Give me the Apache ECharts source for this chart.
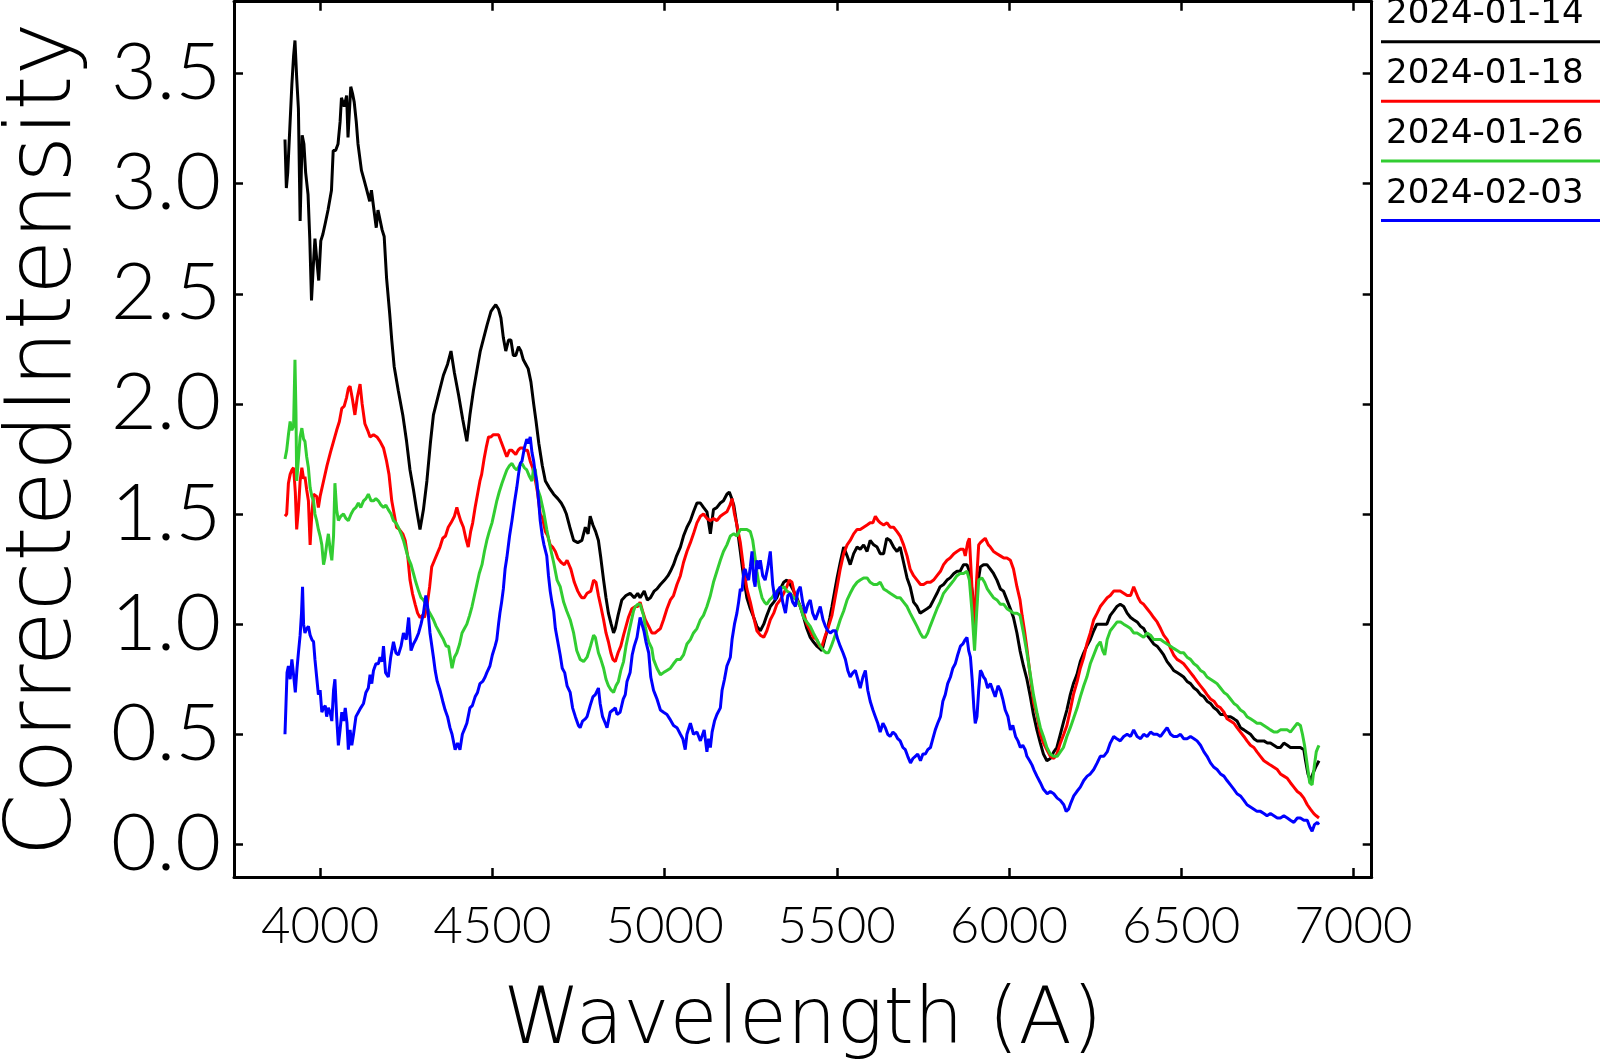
<!DOCTYPE html>
<html><head><meta charset="utf-8">
<script src="https://cdn.jsdelivr.net/npm/echarts@6/dist/echarts.min.js"></script>
<style>html,body{margin:0;padding:0;background:#fff}#c{width:1600px;height:1059px}</style>
</head><body><div id="c"></div><script>
const seriesNames = ['2024-01-14', '2024-01-18', '2024-01-26', '2024-02-03'];
const seriesColors = ['#000000', '#ff0000', '#32cd32', '#0000ff'];
const xTicks = [4000, 4500, 5000, 5500, 6000, 6500, 7000];
const yTicks = [0, 0.5, 1.0, 1.5, 2.0, 2.5, 3.0, 3.5];

const spec0114 = [[3898,3.20],[3902,2.98],[3906,3.05],[3912,3.25],[3918,3.45],[3923,3.58],[3927,3.65],[3932,3.48],[3937,3.34],[3942,2.83],[3948,3.22],[3953,3.18],[3958,3.05],[3965,2.95],[3970,2.75],[3975,2.47],[3980,2.62],[3985,2.75],[3990,2.66],[3996,2.56],[4002,2.74],[4008,2.77],[4015,2.82],[4023,2.88],[4033,2.97],[4038,3.15],[4045,3.15],[4052,3.18],[4058,3.28],[4062,3.39],[4070,3.35],[4077,3.40],[4081,3.21],[4089,3.44],[4094,3.41],[4099,3.37],[4105,3.28],[4110,3.18],[4120,3.06],[4127,3.02],[4134,2.98],[4144,2.92],[4149,2.97],[4154,2.97],[4158,2.86],[4163,2.80],[4168,2.88],[4173,2.88],[4180,2.79],[4186,2.76],[4193,2.57],[4202,2.41],[4208,2.29],[4215,2.17],[4227,2.06],[4240,1.95],[4251,1.83],[4261,1.70],[4271,1.61],[4280,1.52],[4290,1.43],[4300,1.52],[4310,1.65],[4320,1.82],[4329,1.95],[4345,2.05],[4358,2.13],[4370,2.18],[4380,2.24],[4390,2.14],[4402,2.04],[4414,1.93],[4426,1.83],[4435,1.95],[4445,2.06],[4455,2.15],[4465,2.24],[4475,2.30],[4485,2.36],[4496,2.42],[4505,2.44],[4510,2.45],[4518,2.43],[4525,2.39],[4532,2.30],[4539,2.24],[4547,2.29],[4554,2.29],[4561,2.22],[4568,2.22],[4576,2.26],[4583,2.24],[4590,2.20],[4597,2.18],[4604,2.16],[4612,2.10],[4620,2.00],[4627,1.92],[4635,1.82],[4645,1.72],[4654,1.65],[4665,1.62],[4678,1.59],[4690,1.57],[4700,1.55],[4707,1.53],[4715,1.50],[4725,1.44],[4736,1.38],[4748,1.37],[4760,1.38],[4770,1.44],[4778,1.41],[4784,1.49],[4792,1.45],[4800,1.42],[4808,1.38],[4815,1.30],[4823,1.20],[4830,1.12],[4837,1.05],[4845,1.00],[4852,0.96],[4857,0.98],[4865,1.04],[4876,1.11],[4888,1.13],[4900,1.14],[4912,1.12],[4922,1.14],[4929,1.12],[4941,1.15],[4950,1.11],[4959,1.12],[4970,1.15],[4978,1.16],[4988,1.18],[5000,1.20],[5010,1.22],[5017,1.24],[5026,1.27],[5035,1.31],[5046,1.35],[5055,1.40],[5065,1.44],[5075,1.47],[5084,1.51],[5094,1.55],[5104,1.55],[5113,1.53],[5123,1.51],[5133,1.41],[5142,1.52],[5152,1.53],[5162,1.55],[5171,1.56],[5181,1.59],[5188,1.60],[5195,1.57],[5201,1.54],[5210,1.45],[5220,1.33],[5229,1.22],[5239,1.12],[5249,1.07],[5259,1.03],[5268,0.99],[5278,0.97],[5288,1.00],[5297,1.04],[5307,1.08],[5317,1.10],[5326,1.12],[5336,1.16],[5346,1.19],[5355,1.20],[5365,1.18],[5375,1.15],[5384,1.12],[5394,1.08],[5404,1.03],[5413,0.98],[5423,0.94],[5432,0.92],[5442,0.90],[5450,0.89],[5457,0.88],[5465,0.93],[5472,0.97],[5480,1.03],[5486,1.08],[5494,1.15],[5501,1.21],[5510,1.28],[5520,1.35],[5530,1.31],[5539,1.27],[5549,1.32],[5559,1.35],[5568,1.34],[5578,1.36],[5588,1.33],[5597,1.38],[5607,1.36],[5617,1.35],[5626,1.32],[5636,1.32],[5645,1.39],[5655,1.38],[5665,1.35],[5675,1.33],[5684,1.35],[5694,1.28],[5704,1.21],[5713,1.17],[5723,1.10],[5733,1.08],[5742,1.05],[5752,1.06],[5762,1.07],[5771,1.08],[5781,1.11],[5791,1.14],[5800,1.17],[5810,1.18],[5820,1.20],[5829,1.21],[5840,1.23],[5849,1.24],[5858,1.24],[5868,1.27],[5878,1.27],[5885,1.24],[5893,1.15],[5902,1.05],[5909,1.18],[5917,1.26],[5926,1.27],[5936,1.27],[5946,1.25],[5955,1.23],[5965,1.20],[5975,1.16],[5984,1.15],[5994,1.11],[6004,1.07],[6013,1.03],[6023,0.96],[6032,0.88],[6042,0.81],[6052,0.75],[6062,0.67],[6071,0.59],[6081,0.52],[6091,0.46],[6100,0.41],[6110,0.38],[6120,0.39],[6130,0.42],[6139,0.44],[6149,0.50],[6159,0.56],[6168,0.61],[6178,0.68],[6187,0.73],[6197,0.77],[6207,0.83],[6217,0.87],[6226,0.90],[6236,0.93],[6246,0.97],[6255,1.00],[6265,1.00],[6275,1.00],[6284,1.00],[6294,1.04],[6304,1.06],[6313,1.08],[6323,1.09],[6333,1.08],[6343,1.05],[6353,1.03],[6362,1.02],[6372,1.01],[6382,0.99],[6391,0.98],[6401,0.95],[6411,0.93],[6420,0.91],[6430,0.90],[6440,0.88],[6449,0.86],[6459,0.83],[6469,0.81],[6478,0.79],[6488,0.78],[6498,0.77],[6507,0.76],[6517,0.74],[6527,0.73],[6537,0.71],[6546,0.70],[6556,0.68],[6566,0.67],[6575,0.65],[6585,0.64],[6595,0.62],[6604,0.61],[6614,0.59],[6624,0.59],[6633,0.58],[6643,0.58],[6653,0.57],[6662,0.56],[6672,0.53],[6682,0.52],[6691,0.51],[6701,0.50],[6711,0.48],[6720,0.47],[6730,0.47],[6740,0.47],[6750,0.46],[6759,0.46],[6769,0.45],[6779,0.44],[6788,0.44],[6798,0.46],[6808,0.45],[6817,0.44],[6827,0.44],[6837,0.44],[6846,0.44],[6856,0.43],[6861,0.38],[6868,0.32],[6875,0.29],[6882,0.32],[6890,0.35],[6895,0.35],[6900,0.38]];

const spec0118 = [[3898,1.49],[3903,1.50],[3908,1.64],[3913,1.68],[3918,1.70],[3923,1.71],[3928,1.60],[3932,1.43],[3937,1.52],[3942,1.65],[3947,1.71],[3952,1.66],[3956,1.67],[3961,1.61],[3966,1.56],[3971,1.36],[3976,1.50],[3981,1.59],[3990,1.58],[3995,1.53],[4000,1.58],[4010,1.65],[4020,1.72],[4030,1.78],[4039,1.83],[4048,1.88],[4056,1.92],[4063,1.98],[4070,1.99],[4077,2.03],[4082,2.07],[4087,2.08],[4094,2.02],[4101,1.95],[4108,2.03],[4116,2.09],[4122,2.00],[4130,1.91],[4138,1.88],[4145,1.85],[4155,1.86],[4165,1.85],[4174,1.83],[4184,1.80],[4193,1.74],[4200,1.68],[4208,1.56],[4215,1.50],[4222,1.44],[4230,1.43],[4240,1.41],[4247,1.38],[4255,1.30],[4261,1.20],[4268,1.14],[4276,1.09],[4283,1.05],[4290,1.03],[4297,1.04],[4303,1.03],[4310,1.08],[4318,1.17],[4324,1.26],[4332,1.29],[4340,1.32],[4348,1.35],[4356,1.39],[4364,1.40],[4372,1.44],[4380,1.46],[4390,1.49],[4397,1.53],[4402,1.50],[4408,1.47],[4416,1.44],[4423,1.39],[4430,1.35],[4437,1.42],[4443,1.46],[4450,1.53],[4457,1.59],[4464,1.65],[4469,1.68],[4476,1.75],[4482,1.80],[4489,1.85],[4496,1.85],[4503,1.86],[4510,1.86],[4518,1.86],[4525,1.83],[4530,1.83],[4537,1.78],[4542,1.76],[4550,1.79],[4556,1.79],[4561,1.79],[4568,1.77],[4575,1.79],[4581,1.80],[4588,1.80],[4595,1.79],[4602,1.79],[4610,1.74],[4617,1.71],[4624,1.66],[4631,1.60],[4639,1.50],[4646,1.48],[4654,1.42],[4661,1.40],[4668,1.36],[4675,1.35],[4683,1.33],[4690,1.30],[4700,1.28],[4709,1.27],[4717,1.29],[4728,1.25],[4738,1.19],[4748,1.15],[4755,1.13],[4760,1.12],[4767,1.12],[4775,1.14],[4786,1.15],[4794,1.20],[4801,1.19],[4808,1.13],[4815,1.08],[4823,1.02],[4830,0.96],[4837,0.92],[4844,0.87],[4850,0.84],[4857,0.83],[4865,0.87],[4873,0.90],[4881,0.95],[4888,0.99],[4895,1.03],[4905,1.07],[4915,1.08],[4922,1.08],[4929,1.10],[4936,1.06],[4944,1.02],[4954,0.99],[4963,0.96],[4973,0.96],[4980,0.97],[4988,0.98],[4997,1.02],[5007,1.07],[5017,1.11],[5026,1.13],[5036,1.18],[5046,1.22],[5055,1.28],[5065,1.33],[5075,1.37],[5084,1.41],[5094,1.46],[5104,1.49],[5113,1.50],[5123,1.48],[5133,1.47],[5142,1.48],[5152,1.47],[5162,1.49],[5171,1.50],[5181,1.51],[5190,1.54],[5196,1.57],[5203,1.50],[5210,1.45],[5220,1.37],[5229,1.26],[5239,1.16],[5249,1.10],[5259,1.03],[5268,0.97],[5278,0.95],[5288,0.94],[5297,0.97],[5307,1.02],[5317,1.05],[5326,1.09],[5336,1.11],[5346,1.14],[5355,1.17],[5362,1.20],[5370,1.19],[5377,1.14],[5384,1.11],[5394,1.08],[5404,1.05],[5413,1.00],[5423,0.97],[5432,0.94],[5442,0.93],[5450,0.90],[5457,0.90],[5465,0.94],[5472,0.97],[5480,1.01],[5486,1.04],[5494,1.11],[5501,1.17],[5510,1.25],[5520,1.32],[5530,1.36],[5539,1.38],[5549,1.41],[5559,1.43],[5568,1.43],[5578,1.44],[5588,1.45],[5597,1.46],[5605,1.46],[5612,1.49],[5620,1.47],[5626,1.46],[5636,1.45],[5646,1.46],[5655,1.44],[5665,1.44],[5675,1.42],[5684,1.40],[5694,1.36],[5704,1.31],[5713,1.25],[5723,1.22],[5733,1.20],[5743,1.18],[5752,1.18],[5762,1.19],[5772,1.19],[5781,1.20],[5791,1.22],[5801,1.24],[5810,1.27],[5820,1.29],[5829,1.30],[5840,1.32],[5849,1.33],[5859,1.34],[5868,1.34],[5873,1.31],[5880,1.37],[5885,1.39],[5893,1.15],[5900,0.98],[5906,1.20],[5912,1.36],[5917,1.37],[5924,1.38],[5931,1.39],[5940,1.36],[5946,1.35],[5955,1.33],[5965,1.32],[5975,1.31],[5985,1.30],[5994,1.30],[6004,1.29],[6013,1.25],[6023,1.17],[6032,1.11],[6038,1.04],[6045,0.97],[6052,0.89],[6062,0.76],[6072,0.64],[6081,0.59],[6091,0.50],[6100,0.46],[6110,0.43],[6120,0.40],[6130,0.39],[6139,0.41],[6149,0.46],[6159,0.50],[6168,0.54],[6178,0.61],[6187,0.68],[6198,0.74],[6207,0.80],[6217,0.85],[6226,0.91],[6236,0.96],[6246,1.02],[6256,1.05],[6265,1.08],[6275,1.10],[6285,1.12],[6294,1.13],[6304,1.15],[6314,1.15],[6323,1.15],[6333,1.14],[6343,1.13],[6353,1.13],[6362,1.17],[6367,1.17],[6375,1.12],[6382,1.10],[6391,1.09],[6401,1.07],[6411,1.05],[6420,1.03],[6430,1.01],[6440,0.98],[6449,0.95],[6459,0.93],[6469,0.89],[6478,0.86],[6488,0.84],[6498,0.83],[6507,0.82],[6517,0.80],[6527,0.78],[6537,0.76],[6546,0.74],[6556,0.72],[6566,0.70],[6575,0.68],[6585,0.66],[6595,0.65],[6604,0.63],[6614,0.62],[6624,0.60],[6633,0.57],[6643,0.56],[6653,0.55],[6662,0.53],[6672,0.51],[6682,0.49],[6691,0.47],[6701,0.45],[6711,0.44],[6720,0.42],[6730,0.40],[6740,0.38],[6750,0.37],[6759,0.36],[6769,0.35],[6779,0.34],[6788,0.32],[6798,0.31],[6808,0.30],[6817,0.28],[6827,0.26],[6837,0.24],[6846,0.23],[6856,0.21],[6866,0.18],[6875,0.16],[6885,0.14],[6892,0.13],[6900,0.12]];

const spec0126 = [[3898,1.75],[3903,1.79],[3908,1.86],[3913,1.92],[3918,1.88],[3923,1.90],[3927,2.20],[3930,1.95],[3932,1.65],[3937,1.75],[3942,1.85],[3947,1.89],[3952,1.84],[3956,1.83],[3961,1.76],[3966,1.71],[3971,1.62],[3976,1.58],[3981,1.56],[3985,1.50],[3990,1.47],[3995,1.43],[4000,1.40],[4005,1.36],[4010,1.27],[4014,1.30],[4019,1.36],[4024,1.41],[4029,1.34],[4034,1.29],[4039,1.40],[4043,1.64],[4048,1.52],[4053,1.47],[4060,1.49],[4068,1.50],[4075,1.48],[4082,1.47],[4090,1.50],[4097,1.52],[4104,1.53],[4111,1.55],[4118,1.53],[4126,1.56],[4133,1.57],[4140,1.59],[4148,1.56],[4155,1.56],[4162,1.57],[4169,1.56],[4177,1.54],[4184,1.53],[4191,1.54],[4198,1.52],[4206,1.50],[4213,1.47],[4220,1.46],[4227,1.44],[4235,1.41],[4242,1.38],[4249,1.34],[4256,1.30],[4264,1.27],[4271,1.23],[4278,1.19],[4286,1.15],[4293,1.12],[4300,1.11],[4307,1.09],[4315,1.06],[4322,1.04],[4329,1.02],[4337,0.99],[4344,0.97],[4351,0.95],[4358,0.93],[4366,0.90],[4373,0.90],[4378,0.85],[4383,0.80],[4390,0.85],[4397,0.87],[4405,0.91],[4412,0.96],[4419,0.98],[4426,1.00],[4434,1.04],[4441,1.08],[4448,1.13],[4455,1.18],[4462,1.23],[4470,1.27],[4477,1.33],[4484,1.38],[4491,1.42],[4499,1.46],[4506,1.51],[4513,1.56],[4520,1.60],[4528,1.64],[4535,1.67],[4542,1.70],[4550,1.72],[4557,1.73],[4564,1.71],[4571,1.70],[4579,1.72],[4586,1.73],[4593,1.71],[4600,1.70],[4608,1.67],[4615,1.65],[4620,1.71],[4625,1.70],[4630,1.62],[4639,1.58],[4649,1.51],[4658,1.43],[4668,1.35],[4678,1.28],[4688,1.20],[4697,1.17],[4707,1.10],[4716,1.06],[4726,1.02],[4736,0.96],[4745,0.88],[4755,0.84],[4765,0.83],[4775,0.85],[4785,0.90],[4794,0.95],[4799,0.94],[4808,0.87],[4815,0.84],[4823,0.80],[4830,0.75],[4837,0.72],[4845,0.70],[4852,0.69],[4859,0.72],[4866,0.74],[4873,0.79],[4881,0.83],[4888,0.90],[4896,0.96],[4903,1.01],[4910,1.06],[4915,1.08],[4922,1.09],[4929,1.09],[4935,1.06],[4939,1.04],[4944,0.99],[4949,0.95],[4954,0.92],[4963,0.89],[4968,0.84],[4978,0.80],[4988,0.77],[4997,0.78],[5007,0.79],[5017,0.80],[5026,0.82],[5036,0.84],[5046,0.84],[5055,0.86],[5065,0.91],[5075,0.93],[5084,0.96],[5094,0.98],[5104,1.02],[5113,1.04],[5123,1.08],[5133,1.13],[5142,1.19],[5152,1.24],[5162,1.29],[5171,1.33],[5181,1.36],[5191,1.40],[5201,1.41],[5210,1.40],[5220,1.43],[5230,1.43],[5239,1.43],[5249,1.42],[5256,1.38],[5263,1.30],[5268,1.24],[5275,1.17],[5283,1.12],[5290,1.10],[5297,1.09],[5305,1.11],[5312,1.12],[5320,1.14],[5326,1.15],[5336,1.16],[5346,1.17],[5355,1.15],[5365,1.14],[5375,1.12],[5384,1.11],[5394,1.08],[5404,1.03],[5413,1.01],[5423,0.99],[5432,0.96],[5442,0.93],[5452,0.90],[5462,0.88],[5469,0.87],[5476,0.87],[5484,0.90],[5491,0.93],[5500,0.97],[5510,1.02],[5520,1.06],[5530,1.11],[5539,1.14],[5549,1.17],[5559,1.19],[5568,1.20],[5578,1.21],[5588,1.21],[5597,1.19],[5607,1.18],[5617,1.18],[5626,1.19],[5636,1.16],[5646,1.15],[5655,1.14],[5665,1.13],[5675,1.12],[5684,1.12],[5694,1.10],[5704,1.08],[5713,1.05],[5723,1.02],[5733,0.99],[5742,0.96],[5750,0.94],[5757,0.94],[5764,0.96],[5771,0.99],[5781,1.03],[5791,1.07],[5800,1.10],[5810,1.14],[5820,1.16],[5830,1.18],[5840,1.20],[5849,1.22],[5858,1.23],[5868,1.23],[5878,1.24],[5885,1.20],[5893,1.05],[5900,0.88],[5906,1.05],[5912,1.20],[5921,1.21],[5929,1.19],[5937,1.16],[5946,1.14],[5955,1.12],[5965,1.11],[5975,1.09],[5985,1.09],[5994,1.07],[6004,1.06],[6013,1.05],[6023,1.05],[6032,1.04],[6042,0.96],[6052,0.87],[6062,0.77],[6071,0.68],[6081,0.60],[6091,0.53],[6100,0.49],[6110,0.44],[6120,0.41],[6129,0.40],[6140,0.40],[6149,0.42],[6158,0.44],[6168,0.49],[6178,0.53],[6187,0.57],[6198,0.62],[6207,0.67],[6217,0.72],[6226,0.76],[6236,0.82],[6246,0.86],[6256,0.90],[6265,0.92],[6272,0.88],[6278,0.86],[6285,0.93],[6294,0.97],[6304,0.99],[6314,1.01],[6324,1.01],[6333,1.00],[6343,0.99],[6353,0.98],[6362,0.96],[6372,0.96],[6382,0.95],[6391,0.94],[6401,0.96],[6411,0.95],[6420,0.93],[6430,0.93],[6440,0.93],[6449,0.92],[6459,0.91],[6469,0.90],[6478,0.89],[6488,0.88],[6498,0.87],[6507,0.87],[6517,0.85],[6527,0.84],[6537,0.82],[6546,0.81],[6556,0.79],[6566,0.78],[6575,0.76],[6585,0.75],[6595,0.74],[6604,0.73],[6614,0.71],[6624,0.69],[6633,0.68],[6643,0.66],[6653,0.64],[6662,0.63],[6672,0.61],[6682,0.60],[6691,0.58],[6701,0.57],[6711,0.56],[6720,0.55],[6730,0.55],[6740,0.54],[6750,0.53],[6759,0.52],[6769,0.51],[6779,0.51],[6788,0.52],[6798,0.52],[6808,0.52],[6817,0.51],[6827,0.53],[6837,0.55],[6846,0.54],[6852,0.50],[6858,0.45],[6866,0.36],[6873,0.28],[6880,0.27],[6886,0.35],[6892,0.42],[6897,0.44],[6900,0.45]];

const spec0203 = [[3898,0.50],[3901,0.64],[3904,0.78],[3908,0.81],[3913,0.75],[3918,0.84],[3923,0.77],[3928,0.69],[3933,0.80],[3937,0.87],[3942,0.95],[3946,1.05],[3949,1.17],[3952,1.00],[3956,0.96],[3961,0.98],[3966,0.99],[3971,0.95],[3976,0.93],[3981,0.92],[3985,0.84],[3990,0.76],[3995,0.68],[4000,0.70],[4005,0.60],[4010,0.62],[4015,0.63],[4019,0.58],[4024,0.62],[4029,0.60],[4034,0.56],[4039,0.70],[4043,0.75],[4048,0.58],[4053,0.45],[4058,0.52],[4063,0.60],[4068,0.56],[4073,0.62],[4078,0.55],[4082,0.43],[4087,0.52],[4092,0.45],[4097,0.50],[4104,0.58],[4111,0.60],[4118,0.62],[4126,0.64],[4133,0.69],[4140,0.71],[4145,0.77],[4150,0.73],[4155,0.79],[4162,0.82],[4169,0.82],[4174,0.85],[4180,0.83],[4184,0.90],[4190,0.78],[4198,0.76],[4205,0.85],[4213,0.92],[4220,0.87],[4227,0.86],[4235,0.90],[4242,0.96],[4250,0.93],[4257,1.03],[4264,0.88],[4271,0.91],[4278,0.93],[4286,0.96],[4293,1.00],[4300,1.05],[4307,1.13],[4312,1.08],[4319,0.96],[4329,0.85],[4334,0.79],[4340,0.74],[4348,0.70],[4356,0.65],[4363,0.61],[4370,0.58],[4377,0.53],[4383,0.50],[4387,0.50],[4392,0.43],[4399,0.46],[4406,0.43],[4413,0.50],[4421,0.53],[4426,0.55],[4435,0.62],[4442,0.63],[4450,0.67],[4457,0.69],[4464,0.73],[4472,0.74],[4479,0.76],[4484,0.78],[4493,0.81],[4500,0.86],[4508,0.90],[4513,0.93],[4518,1.00],[4522,1.05],[4527,1.10],[4532,1.16],[4537,1.25],[4542,1.30],[4550,1.40],[4557,1.47],[4564,1.55],[4571,1.62],[4576,1.68],[4581,1.73],[4586,1.74],[4593,1.80],[4600,1.84],[4605,1.82],[4610,1.85],[4615,1.78],[4620,1.74],[4625,1.68],[4629,1.65],[4635,1.55],[4639,1.47],[4645,1.40],[4650,1.36],[4658,1.31],[4663,1.22],[4668,1.15],[4673,1.10],[4678,1.06],[4683,0.98],[4690,0.92],[4697,0.86],[4703,0.80],[4710,0.78],[4717,0.72],[4726,0.69],[4733,0.62],[4741,0.58],[4750,0.54],[4755,0.53],[4762,0.56],[4770,0.57],[4775,0.58],[4784,0.63],[4792,0.67],[4799,0.68],[4808,0.71],[4813,0.64],[4820,0.58],[4828,0.55],[4833,0.53],[4842,0.60],[4850,0.61],[4857,0.62],[4862,0.59],[4871,0.60],[4880,0.66],[4886,0.68],[4891,0.74],[4900,0.78],[4906,0.86],[4912,0.90],[4920,0.94],[4929,1.03],[4934,1.03],[4940,0.97],[4946,0.92],[4954,0.87],[4960,0.76],[4968,0.70],[4973,0.68],[4978,0.66],[4988,0.61],[4997,0.60],[5007,0.59],[5015,0.57],[5026,0.54],[5036,0.53],[5046,0.50],[5053,0.48],[5060,0.43],[5065,0.50],[5075,0.55],[5084,0.50],[5094,0.51],[5104,0.47],[5109,0.47],[5115,0.52],[5123,0.42],[5128,0.48],[5133,0.44],[5138,0.51],[5145,0.56],[5152,0.59],[5162,0.62],[5167,0.70],[5174,0.75],[5181,0.81],[5191,0.85],[5196,0.93],[5203,1.00],[5210,1.05],[5215,1.10],[5220,1.16],[5225,1.15],[5230,1.24],[5234,1.25],[5239,1.22],[5244,1.20],[5249,1.26],[5254,1.33],[5259,1.20],[5263,1.17],[5268,1.29],[5273,1.25],[5278,1.29],[5285,1.22],[5292,1.20],[5300,1.26],[5307,1.33],[5314,1.18],[5321,1.11],[5328,1.15],[5336,1.17],[5343,1.10],[5351,1.05],[5358,1.13],[5365,1.14],[5372,1.10],[5380,1.08],[5387,1.15],[5394,1.17],[5401,1.10],[5409,1.05],[5416,1.09],[5423,1.11],[5430,1.05],[5438,1.02],[5445,1.05],[5452,1.08],[5460,1.02],[5467,0.99],[5474,0.97],[5481,0.96],[5489,0.97],[5496,0.97],[5503,0.93],[5510,0.90],[5518,0.87],[5525,0.84],[5532,0.79],[5539,0.76],[5547,0.78],[5554,0.79],[5561,0.75],[5568,0.71],[5576,0.76],[5583,0.79],[5590,0.70],[5597,0.65],[5605,0.61],[5612,0.58],[5619,0.55],[5626,0.51],[5634,0.55],[5641,0.53],[5648,0.50],[5655,0.49],[5663,0.51],[5670,0.50],[5677,0.48],[5684,0.47],[5692,0.44],[5699,0.43],[5706,0.40],[5714,0.37],[5721,0.39],[5728,0.40],[5735,0.41],[5743,0.38],[5750,0.41],[5757,0.41],[5764,0.43],[5772,0.44],[5779,0.48],[5786,0.52],[5793,0.55],[5801,0.58],[5808,0.65],[5815,0.68],[5822,0.73],[5830,0.76],[5837,0.80],[5844,0.82],[5851,0.86],[5859,0.90],[5866,0.91],[5873,0.93],[5878,0.94],[5883,0.88],[5888,0.85],[5893,0.75],[5898,0.62],[5902,0.55],[5907,0.58],[5912,0.70],[5917,0.79],[5921,0.78],[5926,0.76],[5931,0.75],[5938,0.71],[5946,0.73],[5953,0.70],[5960,0.67],[5968,0.72],[5975,0.70],[5982,0.66],[5989,0.61],[5997,0.58],[6004,0.52],[6011,0.54],[6019,0.49],[6026,0.47],[6033,0.44],[6040,0.45],[6047,0.43],[6052,0.40],[6060,0.38],[6067,0.36],[6072,0.34],[6081,0.31],[6091,0.28],[6100,0.25],[6111,0.23],[6120,0.24],[6130,0.23],[6140,0.21],[6149,0.20],[6159,0.18],[6166,0.15],[6173,0.16],[6180,0.19],[6188,0.22],[6197,0.24],[6207,0.26],[6217,0.29],[6227,0.31],[6236,0.32],[6246,0.34],[6256,0.37],[6265,0.40],[6275,0.40],[6285,0.42],[6294,0.46],[6304,0.49],[6313,0.48],[6323,0.47],[6333,0.49],[6343,0.50],[6353,0.49],[6362,0.52],[6372,0.49],[6382,0.48],[6391,0.50],[6401,0.49],[6411,0.51],[6420,0.50],[6430,0.50],[6440,0.49],[6449,0.51],[6459,0.53],[6469,0.50],[6478,0.49],[6488,0.49],[6498,0.50],[6507,0.48],[6517,0.48],[6527,0.49],[6537,0.48],[6546,0.47],[6556,0.45],[6566,0.42],[6575,0.40],[6585,0.37],[6595,0.35],[6604,0.34],[6614,0.32],[6624,0.31],[6633,0.29],[6643,0.27],[6653,0.25],[6662,0.23],[6672,0.22],[6682,0.20],[6691,0.18],[6701,0.17],[6711,0.16],[6720,0.15],[6730,0.15],[6740,0.14],[6749,0.13],[6759,0.14],[6769,0.13],[6779,0.12],[6788,0.12],[6798,0.13],[6808,0.12],[6817,0.11],[6827,0.10],[6837,0.12],[6846,0.12],[6856,0.11],[6866,0.11],[6873,0.08],[6880,0.06],[6887,0.09],[6895,0.10],[6900,0.09]];

const seriesData = [spec0114, spec0118, spec0126, spec0203];

const X_MIN = 3750, X_MAX = 7053, Y_MIN = -0.148, Y_MAX = 3.826;
const AXIS_COLOR = '#000';
const NUM_FONT = 'Lato, "DejaVu Sans", sans-serif';
const TXT_FONT = '"DejaVu Sans", sans-serif';

function axisCommon(ticks) {
  return {
    axisLine: { show: true, onZero: false, lineStyle: { color: AXIS_COLOR, width: 3 } },
    axisTick: { show: true, inside: true, length: 9, customValues: ticks, lineStyle: { color: AXIS_COLOR, width: 2.5 } },
    splitLine: { show: false },
    minorTick: { show: false }
  };
}

const chart = echarts.init(document.getElementById('c'), null, { renderer: 'canvas' });
const legendGraphics = [];
seriesNames.forEach((name, i) => {
  legendGraphics.push({
    type: 'text', left: 1386, top: 14.6 + 59.7 * i - 17,
    style: { text: name, fill: '#000', font: '34px "DejaVu Sans", sans-serif' }
  });
  legendGraphics.push({
    type: 'line', shape: { x1: 1381, y1: 41.7 + 59.6 * i, x2: 1600, y2: 41.7 + 59.6 * i },
    style: { stroke: seriesColors[i], lineWidth: 3 }
  });
});

chart.setOption({
  animation: false,
  backgroundColor: '#fff',
  grid: { left: 234, right: 228.3, top: 1.7, bottom: 182, containLabel: false, outerBoundsMode: 'none' },
  xAxis: [
    Object.assign({
      type: 'value', position: 'bottom', min: X_MIN, max: X_MAX,
      axisLabel: { customValues: xTicks, margin: 24, color: '#000', fontFamily: NUM_FONT, fontWeight: 300, fontSize: 51,
        formatter: v => String(v) },
      name: 'Wavelength (A)', nameLocation: 'middle', nameGap: 107,
      nameTextStyle: { color: '#000', fontFamily: TXT_FONT, fontWeight: 200, fontSize: 78 }
    }, axisCommon(xTicks)),
    Object.assign({
      type: 'value', position: 'top', min: X_MIN, max: X_MAX,
      axisLabel: { show: false }
    }, axisCommon(xTicks))
  ],
  yAxis: [
    Object.assign({
      type: 'value', position: 'left', min: Y_MIN, max: Y_MAX,
      axisLabel: { customValues: yTicks, margin: 13, color: '#000', fontFamily: NUM_FONT, fontWeight: 300, fontSize: 79,
        formatter: v => v.toFixed(1) },
      name: 'CorrectedIntensity', nameLocation: 'middle', nameGap: 142, nameRotate: 90,
      nameTextStyle: { color: '#000', fontFamily: TXT_FONT, fontWeight: 200, fontSize: 90 }
    }, axisCommon(yTicks)),
    Object.assign({
      type: 'value', position: 'right', min: Y_MIN, max: Y_MAX,
      axisLabel: { show: false }
    }, axisCommon(yTicks))
  ],
  series: seriesData.map((d, i) => ({
    name: seriesNames[i], type: 'line', data: d, xAxisIndex: 0, yAxisIndex: 0,
    showSymbol: false, symbol: 'none', smooth: false, sampling: null, z: 2 + i,
    lineStyle: { color: seriesColors[i], width: 3 },
    emphasis: { disabled: true }
  })),
  graphic: legendGraphics
});
</script></body></html>
